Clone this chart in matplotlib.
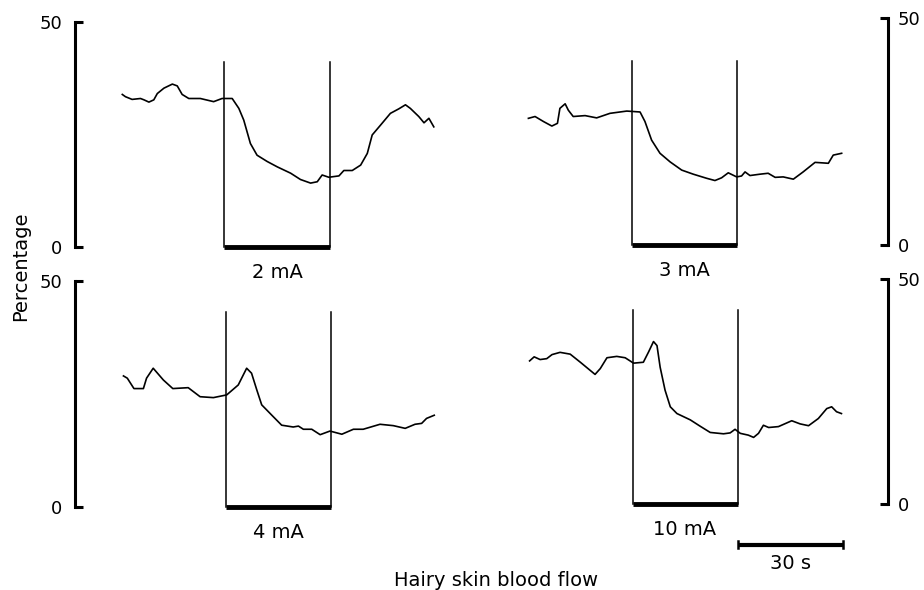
import numpy as np
import matplotlib
matplotlib.use("Agg")
import matplotlib.pyplot as plt

plt.rcParams['font.family'] = ['DejaVu Sans']

# stimulus period (s, relative to onset)
stim_on = 0
stim_off = 30

# traces: time (s) and blood flow (%)
t_2ma = [-29.2, -28.3, -26.4, -24, -23, -21.6, -20.2, -19.2, -17.3, -14.9, -13.5, -12.1, -10.2,
         -6.9, -3.1, -0.7, 2.2, 4.1, 5.5, 7.4, 9.3, 12.2, 15.1, 18.9, 21.7, 24.6, 26.5, 27.9,
         29.8, 32.7, 34.1, 36.5, 38.9, 40.8, 42.2, 44.6, 47.4, 49.8, 51.7, 53.1, 55.5, 57,
         58.4, 59.8]
y_2ma = [33.9, 33.4, 32.8, 33.0, 32.7, 32.2, 32.7, 34.1, 35.3, 36.2, 35.8, 33.9, 33.0,
         33.0, 32.3, 33.0, 33.0, 30.8, 28.2, 23.0, 20.4, 19.0, 17.8, 16.4, 15.0, 14.2, 14.5,
         16.0, 15.5, 15.8, 17.0, 17.0, 18.2, 20.8, 24.9, 27.1, 29.7, 30.7, 31.6, 30.8, 29.0,
         27.6, 28.6, 26.7]

t_3ma = [-29.6, -27.7, -25.3, -22.9, -21.3, -20.6, -19.1, -18.2, -16.8, -13.4, -10.1, -6.3,
         -1.5, 2.3, 3.7, 5.6, 8.0, 10.9, 14.2, 17.5, 21.3, 23.7, 25.6, 27.5, 29.9, 31.3, 32.3,
         33.7, 36.6, 38.9, 40.9, 43.2, 46.1, 48.9, 52.3, 56.1, 57.5, 59.9]
y_3ma = [27.9, 28.3, 27.2, 26.2, 26.8, 30.1, 31.1, 29.7, 28.3, 28.5, 28.0, 29.0,
         29.5, 29.3, 27.2, 23.1, 20.2, 18.3, 16.5, 15.6, 14.7, 14.2, 14.8, 15.9, 15.0, 15.2,
         16.1, 15.3, 15.6, 15.8, 14.9, 15.0, 14.5, 16.1, 18.2, 18.0, 19.8, 20.2]

t_4ma = [-29.3, -28.2, -26.3, -23.6, -22.7, -20.8, -17.9, -15.2, -10.8, -7.4, -3.6, 0.2, 3.5,
         5.9, 7.3, 8.8, 10.2, 13.1, 15.9, 19.2, 20.7, 22.1, 24.5, 26.9, 29.7, 33.1, 36.4,
         39.2, 44, 47.8, 51.2, 54.0, 55.9, 57.3, 59.5]
y_4ma = [29.0, 28.5, 26.2, 26.2, 28.5, 30.7, 28.1, 26.2, 26.4, 24.4, 24.2, 24.8, 27.0,
         30.7, 29.6, 25.9, 22.6, 20.3, 18.1, 17.7, 17.9, 17.2, 17.2, 16.0, 16.8, 16.1, 17.2,
         17.2, 18.3, 18.0, 17.4, 18.3, 18.5, 19.6, 20.3]

t_10ma = [-29.4, -28.1, -26.4, -24.5, -23.0, -20.7, -17.8, -14.9, -12.1, -10.7, -9.2, -7.3,
          -4.5, -2.1, 0.3, 3.1, 4.6, 6.0, 7.0, 7.9, 9.3, 10.8, 12.7, 16.5, 19.3, 22.2, 26.0,
          27.9, 29.3, 30.8, 33.1, 34.6, 36.0, 37.4, 38.9, 41.7, 45.5, 47.9, 50.3, 53.1, 55.5,
          56.9, 58.3, 59.7]
y_10ma = [31.8, 32.7, 32.1, 32.3, 33.2, 33.7, 33.3, 31.5, 29.7, 28.8, 30.1, 32.5,
          32.8, 32.5, 31.3, 31.5, 33.8, 36.1, 35.2, 30.4, 25.3, 21.6, 20.1, 18.7, 17.3, 15.9,
          15.6, 15.8, 16.6, 15.7, 15.3, 14.8, 15.7, 17.5, 17.0, 17.2, 18.5, 17.8, 17.4, 19.0,
          21.2, 21.6, 20.5, 20.1]

labels = ['2 mA', '3 mA', '4 mA', '10 mA']
stim_heights = [41.1, 40.5, 43.1, 43.1]
scale_bar = [30, 60]

W, H = 924, 590
fig = plt.figure(figsize=(W / 100, H / 100), dpi=100)

# panel rectangles in pixels: (left, right, y of 0, y of 50)
panels = [(75, 460, 247, 22), (470, 888, 245, 18),
          (75, 460, 507, 281), (470, 888, 504, 279)]
onsets = [224.5, 632, 226, 632.5]
px_per_s = 3.5

traces = [(t_2ma, y_2ma), (t_3ma, y_3ma), (t_4ma, y_4ma), (t_10ma, y_10ma)]
axes = []
for i, ((l, r, y0, y50), onset) in enumerate(zip(panels, onsets)):
    ax = fig.add_axes([l / W, (H - y0) / H, (r - l) / W, (y0 - y50) / H])
    ax.set_xlim((l - onset) / px_per_s, (r - onset) / px_per_s)
    ax.set_ylim(0, 50)
    t, y = traces[i]
    ax.plot(t, y, color='black', lw=1.2)
    # stimulus window
    ax.plot([stim_on, stim_on], [0, stim_heights[i]], color='black', lw=1.1, clip_on=False)
    ax.plot([stim_off, stim_off], [0, stim_heights[i]], color='black', lw=1.1, clip_on=False)
    ax.plot([stim_on, stim_off], [0, 0], color='black', lw=3.5, solid_capstyle='butt', clip_on=False)
    ax.text((stim_on + stim_off) / 2, -5.6, labels[i], ha='center', va='center', fontsize=14)
    right = (i % 2 == 1)
    for s in ['top', 'bottom', 'left', 'right']:
        ax.spines[s].set_visible(False)
    side = 'right' if right else 'left'
    ax.spines[side].set_visible(True)
    ax.spines[side].set_linewidth(2.2)
    ax.set_xticks([])
    ax.set_yticks([0, 50])
    ax.set_yticklabels(['0', '50'])
    if right:
        ax.yaxis.tick_right()
        ax.tick_params(axis='y', direction='in', length=6, width=2.2, pad=7, labelsize=13)
    else:
        ax.tick_params(axis='y', direction='in', length=6, width=2.2, pad=9, labelsize=13)
    ax.patch.set_visible(False)
    axes.append(ax)

# 30 s scale bar under the last panel
ax = axes[3]
ax.plot(scale_bar, [-9.0, -9.0], color='black', lw=3, solid_capstyle='butt', clip_on=False)
for xb in scale_bar:
    ax.plot([xb, xb], [-9.7, -8.3], color='black', lw=1.8, clip_on=False)
ax.text(sum(scale_bar) / 2, -13.2, '30 s', ha='center', va='center', fontsize=14)

fig.text(21 / W, 1 - 266 / H, 'Percentage', rotation=90, ha='center', va='center', fontsize=14)
fig.text(496 / W, 1 - 580 / H, 'Hairy skin blood flow', ha='center', va='center', fontsize=14)

fig.savefig('out.png', dpi=100)
